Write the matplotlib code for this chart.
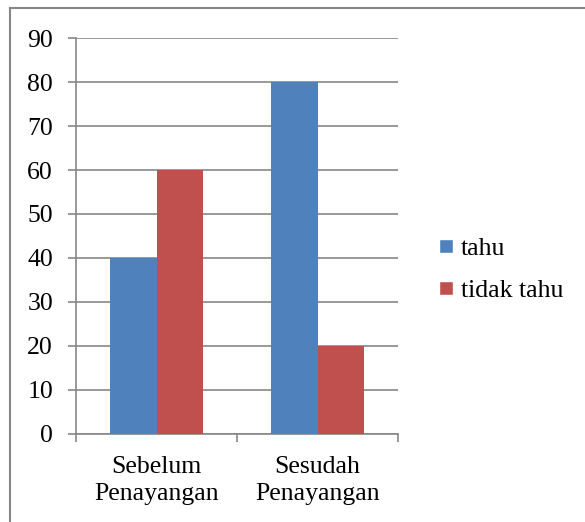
import matplotlib
matplotlib.use("Agg")
import matplotlib.pyplot as plt
from matplotlib.lines import Line2D
import numpy as np

categories = ["Sebelum\nPenayangan", "Sesudah\nPenayangan"]
tahu = [40, 80]
tidak_tahu = [60, 20]
series_names = ["tahu", "tidak tahu"]
y_ticks = [0, 10, 20, 30, 40, 50, 60, 70, 80, 90]

plt.rcParams['font.family'] = ['Liberation Serif', 'DejaVu Serif']

fig = plt.figure(figsize=(5.85, 5.22), dpi=100)
ax = fig.add_axes([76/585, 88/522, 322/585, 396/522])

grey = '#878787'
fs = 18.5
x = np.arange(len(categories))
w = 0.286
ax.bar(x - w/2, tahu, w, color='#4F81BD', zorder=3, label=series_names[0])
ax.bar(x + w/2, tidak_tahu, w, color='#C0504D', zorder=3, label=series_names[1])

ax.set_xlim(-0.5, 1.5)
ax.set_ylim(0, 90)
ax.set_yticks(y_ticks)
ax.grid(axis='y', color=grey, linewidth=1.2, zorder=0)

# category ticks sit on the boundaries between groups
ax.set_xticks([-0.5, 0.5, 1.5])
ax.set_xticklabels([])
ax.set_xticks(x, minor=True)
ax.set_xticklabels(categories, minor=True, fontsize=fs, linespacing=1.35)
ax.tick_params(axis='x', which='minor', length=0, pad=15.5)
ax.tick_params(axis='x', which='major', length=5.5, color=grey, width=1.2)
ax.tick_params(axis='y', length=5.5, color=grey, width=1.2, labelsize=fs, pad=11)

for s in ['top', 'right']:
    ax.spines[s].set_visible(False)
for s in ['left', 'bottom']:
    ax.spines[s].set_color(grey)
    ax.spines[s].set_linewidth(1.2)

handles = [Line2D([0], [0], marker='s', color='w', markerfacecolor='#4F81BD', markersize=9.5),
           Line2D([0], [0], marker='s', color='w', markerfacecolor='#C0504D', markersize=9.5)]
fig.legend(handles, series_names, loc='center left', bbox_to_anchor=(440/585, 1 - 269.5/522),
           frameon=False, fontsize=fs, handlelength=0.5, handletextpad=0.3,
           labelspacing=0.72, borderpad=0, borderaxespad=0)

# outer chart frame
fig.add_artist(Line2D([10/585, 10/585], [0, 1 - 8/522], transform=fig.transFigure,
                      color=grey, linewidth=1.5))
fig.add_artist(Line2D([10/585, 1], [1 - 8/522, 1 - 8/522], transform=fig.transFigure,
                      color=grey, linewidth=1.5))

fig.savefig("out.png", dpi=100)
